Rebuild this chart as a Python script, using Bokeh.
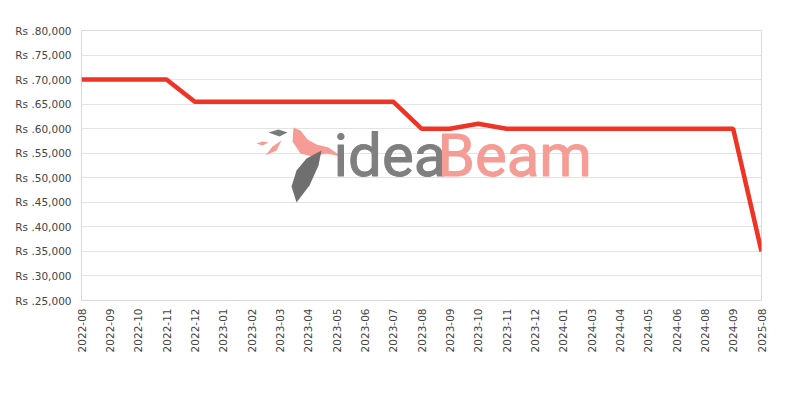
from bokeh.plotting import figure
from bokeh.models import FixedTicker, Range1d, Label, PolyAnnotation
from bokeh.embed import file_html
from bokeh.resources import INLINE
import math

months = ["2022-08", "2022-09", "2022-10", "2022-11", "2022-12", "2023-01", "2023-02",
          "2023-03", "2023-04", "2023-05", "2023-06", "2023-07", "2023-08", "2023-09",
          "2023-10", "2023-11", "2023-12", "2024-01", "2024-03", "2024-04", "2024-05",
          "2024-06", "2024-08", "2024-09", "2025-08"]
prices = [70000, 70000, 70000, 70000, 65500, 65500, 65500, 65500, 65500, 65500, 65500,
          65500, 60000, 60000, 61000, 60000, 60000, 60000, 60000, 60000, 60000, 60000,
          60000, 60000, 35000]
y_ticks = [25000, 30000, 35000, 40000, 45000, 50000, 55000, 60000, 65000, 70000, 75000, 80000]

xs = list(range(len(months)))

p = figure(width=784, height=384, output_backend="svg", toolbar_location=None,
           x_range=Range1d(0, len(months) - 1), y_range=Range1d(25000, 80000),
           min_border_left=81, min_border_right=23, min_border_top=30, min_border_bottom=84)

p.outline_line_color = "#d9d9d9"
p.outline_line_width = 1

# watermark logo (decorative, frame-relative screen units)
def poly(pts, color):
    p.add_layout(PolyAnnotation(xs=[x - 81 for x, _ in pts], ys=[300 - y for _, y in pts],
                                xs_units="screen", ys_units="screen",
                                fill_color=color, fill_alpha=1.0, line_color=None, level="underlay"))

poly([(268, 132), (278, 129), (287, 132), (279, 136)], "#7a7a7a")
poly([(256, 143), (262, 141), (268, 142), (262, 145)], "#f59c95")
poly([(265, 155), (272, 146), (281, 140), (276, 150)], "#f59c95")
poly([(293, 127), (300, 130), (307, 139), (316, 144), (328, 147), (341, 156),
      (326, 153), (312, 156), (300, 153), (292, 141)], "#f59c95")
poly([(306, 158), (321, 150), (318, 165), (309, 185), (296, 202), (291, 186), (296, 170)], "#6f6f6f")

p.add_layout(Label(x=252, y=110, x_units="screen", y_units="screen", text="idea",
                   text_font="Roboto", text_font_size="60px", text_color="#7f7f7f",
                   text_outline_color="#7f7f7f", level="underlay"))
p.add_layout(Label(x=356, y=110, x_units="screen", y_units="screen", text="Beam",
                   text_font="Roboto", text_font_size="60px", text_color="#f59c95",
                   text_outline_color="#f59c95", level="underlay"))

p.line(xs, prices, line_color="#ef3324", line_width=4.5)

p.xaxis.ticker = FixedTicker(ticks=xs)
p.xaxis.major_label_overrides = {i: m for i, m in enumerate(months)}
p.xaxis.major_label_orientation = math.pi / 2
p.yaxis.ticker = FixedTicker(ticks=y_ticks)
p.yaxis.major_label_overrides = {t: "Rs .{:,}".format(t) for t in y_ticks}

for ax in (p.xaxis, p.yaxis):
    ax.axis_line_color = None
    ax.major_tick_line_color = None
    ax.minor_tick_line_color = None
    ax.major_tick_out = 0
    ax.major_tick_in = 0
    ax.major_label_text_font = "DejaVu Sans"
    ax.major_label_text_font_size = "10.5px"
    ax.major_label_text_color = "#444444"
p.yaxis.major_label_standoff = 10
p.xaxis.major_label_standoff = 8

p.xgrid.grid_line_color = None
p.ygrid.grid_line_color = "#e3e3e3"
p.ygrid.grid_line_width = 1

open("out.html", "w").write(file_html(p, INLINE))
